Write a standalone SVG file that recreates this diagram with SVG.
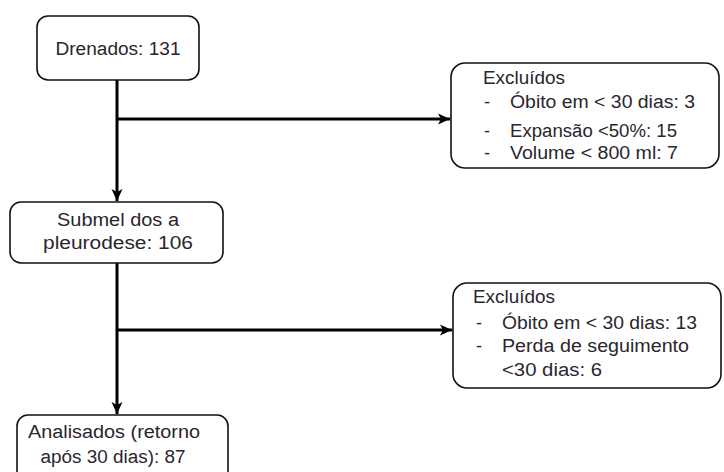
<svg xmlns="http://www.w3.org/2000/svg" width="724" height="472" viewBox="0 0 724 472">
<style>
.box{fill:#fff;stroke:#111;stroke-width:1.6}
.t{font-family:"Liberation Sans",Arial,sans-serif;font-size:18px;fill:#2b2530}
.c{text-anchor:middle}
.ln{stroke:#000;stroke-width:3;fill:none}
</style>
<defs>
<marker id="ah" markerUnits="userSpaceOnUse" markerWidth="14" markerHeight="14" viewBox="0 0 14 14" refX="12" refY="7" orient="auto">
<path d="M0,1.5 L12,7 L0,12.5 L3,7 Z" fill="#000"/>
</marker>
</defs>
<g id="connectors">
<line class="ln" x1="117" y1="80" x2="117" y2="201" marker-end="url(#ah)"/>
<line class="ln" x1="117" y1="119" x2="450" y2="119" marker-end="url(#ah)"/>
<line class="ln" x1="117" y1="263" x2="117" y2="414" marker-end="url(#ah)"/>
<line class="ln" x1="117" y1="330" x2="452" y2="330" marker-end="url(#ah)"/>
</g>
<g id="drenados">
<rect class="box" x="37" y="16" width="162" height="64" rx="11"/>
<text class="t c" x="118" y="55" textLength="125" lengthAdjust="spacingAndGlyphs">Drenados: 131</text>
</g>
<g id="excluidos1">
<rect class="box" x="451" y="63" width="268" height="105" rx="14"/>
<text class="t" x="483" y="84" textLength="82" lengthAdjust="spacingAndGlyphs">Excluídos</text>
<text class="t" x="484" y="108">-</text>
<text class="t" x="510" y="108" textLength="185" lengthAdjust="spacingAndGlyphs">Óbito em &lt; 30 dias: 3</text>
<text class="t" x="484" y="137">-</text>
<text class="t" x="510" y="137" textLength="167" lengthAdjust="spacingAndGlyphs">Expansão &lt;50%: 15</text>
<text class="t" x="484" y="159">-</text>
<text class="t" x="510" y="159" textLength="168" lengthAdjust="spacingAndGlyphs">Volume &lt; 800 ml: 7</text>
</g>
<g id="submetidos">
<rect class="box" x="10" y="202" width="213" height="61" rx="11"/>
<text class="t c" x="118" y="226" textLength="122" lengthAdjust="spacingAndGlyphs">Submel dos a</text>
<text class="t c" x="118" y="249" textLength="150" lengthAdjust="spacingAndGlyphs">pleurodese: 106</text>
</g>
<g id="excluidos2">
<rect class="box" x="453" y="283" width="268" height="105" rx="14"/>
<text class="t" x="473" y="303" textLength="82" lengthAdjust="spacingAndGlyphs">Excluídos</text>
<text class="t" x="476" y="329">-</text>
<text class="t" x="502" y="329" textLength="195" lengthAdjust="spacingAndGlyphs">Óbito em &lt; 30 dias: 13</text>
<text class="t" x="476" y="352">-</text>
<text class="t" x="502" y="352" textLength="187" lengthAdjust="spacingAndGlyphs">Perda de seguimento</text>
<text class="t" x="502" y="376" textLength="100" lengthAdjust="spacingAndGlyphs">&lt;30 dias: 6</text>
</g>
<g id="analisados">
<rect class="box" x="17" y="415" width="211" height="70" rx="11"/>
<text class="t c" x="114" y="438" textLength="172" lengthAdjust="spacingAndGlyphs">Analisados (retorno</text>
<text class="t c" x="113" y="463" textLength="145" lengthAdjust="spacingAndGlyphs">após 30 dias): 87</text>
</g>
</svg>
